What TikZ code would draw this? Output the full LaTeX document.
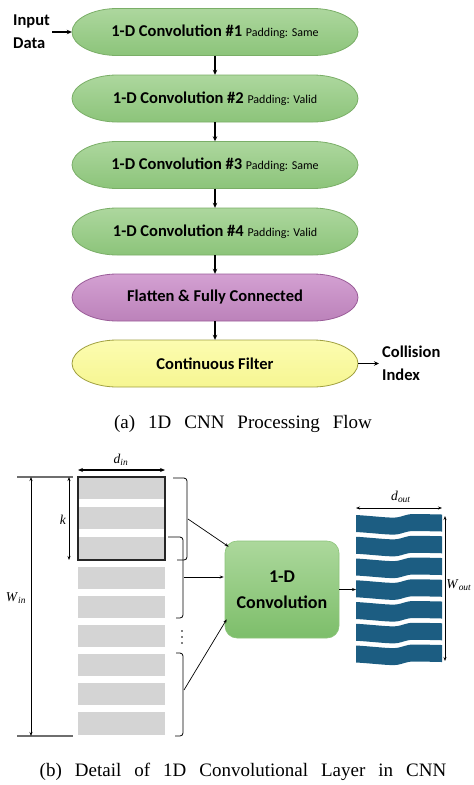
\documentclass[tikz,border=0pt]{standalone}
\usepackage{fontspec}
\setmainfont{Liberation Serif}
\newfontfamily\carl{Carlito}
\usetikzlibrary{arrows.meta,calc}
\definecolor{gtop}{HTML}{ADD79E}
\definecolor{gbot}{HTML}{8CC47A}
\definecolor{gline}{HTML}{7AAE67}
\definecolor{ptop}{HTML}{D3A0D2}
\definecolor{pbot}{HTML}{BC82BA}
\definecolor{pline}{HTML}{9A5C98}
\definecolor{ytop}{HTML}{FCFCB0}
\definecolor{ybot}{HTML}{F6F692}
\definecolor{yline}{HTML}{A0A040}
\definecolor{ctop}{HTML}{ACD89C}
\definecolor{cbot}{HTML}{7DBE6A}
\definecolor{cline}{HTML}{8CC47A}
\definecolor{barg}{HTML}{D4D4D4}
\definecolor{outb}{HTML}{1C5D82}
\definecolor{tickg}{HTML}{6E6E6E}
\newcommand\fbig{\carl\bfseries\fontsize{16.5}{23}\selectfont}
\newcommand\fsmall{\carl\mdseries\fontsize{12}{14}\selectfont}
\newcommand\wsp{\hspace{13pt}}
\begin{document}
\begin{tikzpicture}[x=1pt,y=-1pt,
  pics/pill/.style n args={3}{code={
    \path[draw=#3, line width=0.8pt, top color=#1, bottom color=#2]
      (-98,-23.5) -- (98,-23.5)
      .. controls (122,-23.5) and (143,-13) .. (143,0)
      .. controls (143,13) and (122,23.5) .. (98,23.5)
      -- (-98,23.5)
      .. controls (-122,23.5) and (-143,13) .. (-143,0)
      .. controls (-143,-13) and (-122,-23.5) .. (-98,-23.5) -- cycle;
  }},
  pics/wbar/.style={code={
    \fill[outb] (0,0) .. controls (20,1.2) and (33,3.2) .. (41,2.4)
      .. controls (47,1.5) and (50,-1) .. (58,-1)
      .. controls (70,-1) and (80,-0.5) .. (86,-0.5)
      -- (86,16.5)
      .. controls (80,16.5) and (70,16) .. (58,16)
      .. controls (50,16) and (47,18.5) .. (41,19.4)
      .. controls (33,20.2) and (20,18.2) .. (0,17) -- cycle;
  }},
  pilltext/.style={minimum width=286pt, minimum height=47pt, inner sep=0pt, text=black},
  sidetext/.style={align=left, font=\fbig, inner sep=2pt},
  flowarrow/.style={-{Stealth[length=5pt,width=4.5pt]}, line width=1.2pt},
  thinarrow/.style={-{Stealth[length=4pt,width=3pt]}, line width=0.7pt},
  dimthin/.style={{Stealth[length=4pt,width=3pt]}-{Stealth[length=4pt,width=3pt]}, line width=0.7pt},
  dimthick/.style={{Stealth[length=5pt,width=4pt]}-{Stealth[length=5pt,width=4pt]}, line width=1.6pt},
  dimlabel/.style={inner sep=1pt, font=\fontsize{13.5}{15}\selectfont},
  tickline/.style={draw=tickg, line width=1.5pt},
  bracket/.style={line width=0.8pt, rounded corners=3pt},
  caption/.style={inner sep=0pt, font=\fontsize{19}{22}\selectfont},
  convbox/.style={rounded corners=12pt, minimum width=114pt, minimum height=97pt,
    top color=ctop, bottom color=cbot, draw=cline, line width=0.6pt, align=center,
    font=\carl\bfseries\fontsize{18}{26}\selectfont}
]
\useasboundingbox (0,0) rectangle (474,785);

% ---------- (a) flow ----------
\pic at (215,32) {pill={gtop}{gbot}{gline}};
\pic at (215,98.5) {pill={gtop}{gbot}{gline}};
\pic at (215,165) {pill={gtop}{gbot}{gline}};
\pic at (215,231.5) {pill={gtop}{gbot}{gline}};
\pic at (215,297.5) {pill={ptop}{pbot}{pline}};
\pic at (215,363.5) {pill={ytop}{ybot}{yline}};

\node[pilltext] (c1) at (215,32) {\fbig 1-D Convolution \#1 {\fsmall Padding: Same}};
\node[pilltext] (c2) at (215,98.5) {\fbig 1-D Convolution \#2 {\fsmall Padding: Valid}};
\node[pilltext] (c3) at (215,165) {\fbig 1-D Convolution \#3 {\fsmall Padding: Same}};
\node[pilltext] (c4) at (215,231.5) {\fbig 1-D Convolution \#4 {\fsmall Padding: Valid}};
\node[pilltext] (c5) at (215,297.5) {\fbig Flatten \& Fully Connected};
\node[pilltext] (c6) at (215,363.5) {\fbig Continuous Filter};

\node[sidetext, anchor=west] (in) at (11,32) {Input\\Data};
\node[sidetext, anchor=west, inner sep=3pt] (ci) at (379,363.5) {Collision\\Index};

\draw[flowarrow] (in.east) -- (c1.west);
\draw[flowarrow] (c1.south) -- (c2.north);
\draw[flowarrow] (c2.south) -- (c3.north);
\draw[flowarrow] (c3.south) -- (c4.north);
\draw[flowarrow] (c4.south) -- (c5.north);
\draw[flowarrow] (c5.south) -- (c6.north);
\draw[flowarrow] (c6.east) -- (ci.west);

\node[caption] (capa) at (243,424) {(a)\wsp 1D\wsp CNN\wsp Processing\wsp Flow};

% ---------- (b) detail ----------
% input bars
\fill[barg] (78,477) rectangle (165,499);
\fill[barg] (78,507) rectangle (165,529);
\fill[barg] (78,537) rectangle (165,560);
\fill[barg] (78,567) rectangle (165,589);
\fill[barg] (78,596) rectangle (165,618);
\fill[barg] (78,625) rectangle (165,647);
\fill[barg] (78,654) rectangle (165,676);
\fill[barg] (78,683) rectangle (165,705);
\fill[barg] (78,712) rectangle (165,735);
\draw[line width=1.3pt, draw=black!85] (78,477) rectangle (165,560);

% dimension d_in
\coordinate (dinl) at (78,470);
\coordinate (dinr) at (165,470);
\draw[dimthick] (dinl) -- (dinr);
\node[dimlabel] (dinlab) at (121,460) {\textit{d}\textsubscript{\textit{in}}};

% W_in
\draw[tickline] (17,477) -- (73,477);
\draw[tickline] (17,736) -- (73,736);
\coordinate (wint) at (31,477);
\coordinate (winb) at (31,736);
\draw[dimthin] (wint) -- (winb);
\node[dimlabel] (winlab) at (16,598) {\textit{W}\textsubscript{\textit{in}}};

% k
\coordinate (kt) at (69,477);
\coordinate (kb) at (69,560);
\draw[dimthin] (kt) -- (kb);
\node[dimlabel] (klab) at (63,520) {\textit{k}};

% brackets
\draw[bracket] (173,478) -- (187,478) -- (187,560) -- (177,560);
\draw[bracket] (168,537) -- (183,537) -- (183,618) -- (176,618);
\draw[bracket] (176,653) -- (183,653) -- (183,736) -- (175,736);
\fill (182,631) circle[radius=0.9];
\fill (182,637) circle[radius=0.9];
\fill (182,643) circle[radius=0.9];

% convolution box
\node[convbox] (conv) at (282,589.5) {1-D\\Convolution};

\coordinate (m1) at (188,519);
\coordinate (m2) at (184,577);
\coordinate (m3) at (184,690);
\coordinate (t1) at ($(conv.north west)+(4,6)$);
\coordinate (t2) at ($(conv.west)+(-1,-12.5)$);
\coordinate (t3) at ($(conv.south west)+(2,-19)$);
\draw[thinarrow] (m1) -- (t1);
\draw[thinarrow] (m2) -- (t2);
\draw[thinarrow] (m3) -- (t3);

% output bars
\foreach \i in {0,...,6} {
  \pic at (356,{515+21.75*\i}) {wbar};
}
\coordinate (oin) at (356,589.5);
\draw[thinarrow] (conv.east) -- (oin);

\coordinate (doutl) at (356,508);
\coordinate (doutr) at (442,508);
\draw[dimthin] (doutl) -- (doutr);
\node[dimlabel] (doutlab) at (401,497) {\textit{d}\textsubscript{\textit{out}}};

\coordinate (woutt) at (445,516);
\coordinate (woutb) at (445,661);
\draw[dimthin] (woutt) -- (woutb);
\node[dimlabel] (woutlab) at (459,585) {\textit{W}\textsubscript{\textit{out}}};

\node[caption] (capb) at (243,772) {(b)\wsp Detail\wsp of\wsp 1D\wsp Convolutional\wsp Layer\wsp in\wsp CNN};
\end{tikzpicture}
\end{document}
